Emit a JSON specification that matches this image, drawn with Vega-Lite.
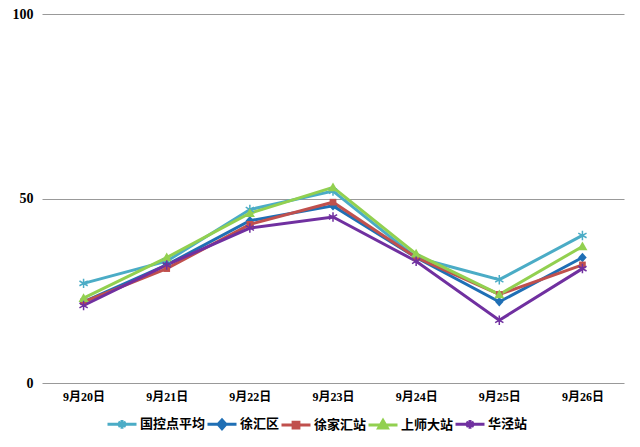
{
  "$schema": "https://vega.github.io/schema/vega-lite/v6.json",
  "width": 582,
  "height": 369,
  "autosize": {"type": "none"},
  "padding": {"left": 42, "top": 14, "right": 16, "bottom": 64},
  "background": "white",
  "config": {"view": {"stroke": null}},
  "data": {"values": [
    {"date": "9月20日", "series": "国控点平均", "value": 27},
    {"date": "9月21日", "series": "国控点平均", "value": 33},
    {"date": "9月22日", "series": "国控点平均", "value": 47},
    {"date": "9月23日", "series": "国控点平均", "value": 52},
    {"date": "9月24日", "series": "国控点平均", "value": 34},
    {"date": "9月25日", "series": "国控点平均", "value": 28},
    {"date": "9月26日", "series": "国控点平均", "value": 40},
    {"date": "9月20日", "series": "徐汇区", "value": 22},
    {"date": "9月21日", "series": "徐汇区", "value": 32},
    {"date": "9月22日", "series": "徐汇区", "value": 44},
    {"date": "9月23日", "series": "徐汇区", "value": 48},
    {"date": "9月24日", "series": "徐汇区", "value": 34},
    {"date": "9月25日", "series": "徐汇区", "value": 22},
    {"date": "9月26日", "series": "徐汇区", "value": 34},
    {"date": "9月20日", "series": "徐家汇站", "value": 22},
    {"date": "9月21日", "series": "徐家汇站", "value": 31},
    {"date": "9月22日", "series": "徐家汇站", "value": 43},
    {"date": "9月23日", "series": "徐家汇站", "value": 49},
    {"date": "9月24日", "series": "徐家汇站", "value": 34},
    {"date": "9月25日", "series": "徐家汇站", "value": 24},
    {"date": "9月26日", "series": "徐家汇站", "value": 32},
    {"date": "9月20日", "series": "上师大站", "value": 23},
    {"date": "9月21日", "series": "上师大站", "value": 34},
    {"date": "9月22日", "series": "上师大站", "value": 46},
    {"date": "9月23日", "series": "上师大站", "value": 53},
    {"date": "9月24日", "series": "上师大站", "value": 35},
    {"date": "9月25日", "series": "上师大站", "value": 24},
    {"date": "9月26日", "series": "上师大站", "value": 37},
    {"date": "9月20日", "series": "华泾站", "value": 21},
    {"date": "9月21日", "series": "华泾站", "value": 32},
    {"date": "9月22日", "series": "华泾站", "value": 42},
    {"date": "9月23日", "series": "华泾站", "value": 45},
    {"date": "9月24日", "series": "华泾站", "value": 33},
    {"date": "9月25日", "series": "华泾站", "value": 17},
    {"date": "9月26日", "series": "华泾站", "value": 31}
  ]},
  "encoding": {
    "x": {
      "field": "date", "type": "ordinal", "sort": null,
      "scale": {"padding": 0.5},
      "axis": {
        "title": null, "labelAngle": 0, "domain": false, "ticks": false,
        "labelPadding": 8, "labelFont": "Liberation Serif, Noto Sans CJK SC",
        "labelFontWeight": "bold", "labelFontSize": 12, "labelColor": "#000"
      }
    },
    "y": {
      "field": "value", "type": "quantitative",
      "scale": {"domain": [0, 100], "nice": false},
      "axis": {
        "title": null, "values": [0, 50, 100], "domain": false, "ticks": false,
        "grid": true, "gridColor": "#999999", "gridWidth": 1,
        "labelPadding": 9, "labelFont": "Liberation Serif",
        "labelFontWeight": "bold", "labelFontSize": 14, "labelColor": "#000"
      }
    }
  },
  "layer": [
    {
      "mark": {"type": "line", "strokeWidth": 3},
      "encoding": {
        "color": {
          "field": "series", "type": "nominal",
          "scale": {
            "domain": ["国控点平均", "徐汇区", "徐家汇站", "上师大站", "华泾站"],
            "range": ["#4BACC6", "#1F6FB5", "#C0504D", "#92D050", "#7030A0"]
          },
          "legend": {
            "title": null, "orient": "none", "direction": "horizontal",
            "legendX": 64, "legendY": 394,
            "symbolSize": 841, "symbolStrokeWidth": 3,
            "labelFont": "Noto Sans CJK SC", "labelFontWeight": "bold",
            "labelFontSize": 13, "labelColor": "#000", "labelOffset": 2,
            "columnPadding": -6,
            "encode": {
              "symbols": {
                "update": {
                  "shape": {"signal": "datum.value === '徐汇区' ? 'M-1,0H1M0,-0.3L0.27,0L0,0.3L-0.27,0Z' : datum.value === '徐家汇站' ? 'M-1,0H1M-0.2,-0.2H0.2V0.2H-0.2Z' : datum.value === '上师大站' ? 'M-1,0H1M0,-0.3L0.3,0.22H-0.3Z' : 'M-1,0H1M0,-0.3V0.3M-0.26,-0.15L0.26,0.15M-0.26,0.15L0.26,-0.15'"},
                  "fill": {"signal": "scale('color', datum.value)"},
                  "stroke": {"signal": "scale('color', datum.value)"},
                  "strokeWidth": {"value": 3},
                  "opacity": {"value": 1}
                }
              }
            }
          }
        }
      }
    },
    {
      "transform": [{"filter": "datum.series === '国控点平均'"}],
      "mark": {"type": "point", "filled": false, "opacity": 1, "strokeWidth": 1.5, "color": "#4BACC6", "size": 90,
        "shape": "M0,-1V1M-0.87,-0.5L0.87,0.5M-0.87,0.5L0.87,-0.5"}
    },
    {
      "transform": [{"filter": "datum.series === '徐汇区'"}],
      "mark": {"type": "point", "filled": true, "opacity": 1, "color": "#1F6FB5", "size": 90,
        "shape": "M0,-1L0.9,0L0,1L-0.9,0Z"}
    },
    {
      "transform": [{"filter": "datum.series === '徐家汇站'"}],
      "mark": {"type": "point", "filled": true, "opacity": 1, "color": "#C0504D", "size": 80,
        "shape": "M-0.75,-0.75H0.75V0.75H-0.75Z"}
    },
    {
      "transform": [{"filter": "datum.series === '上师大站'"}],
      "mark": {"type": "point", "filled": true, "opacity": 1, "color": "#92D050", "size": 100,
        "shape": "M0,-1L1,0.75H-1Z"}
    },
    {
      "transform": [{"filter": "datum.series === '华泾站'"}],
      "mark": {"type": "point", "filled": false, "opacity": 1, "strokeWidth": 1.5, "color": "#7030A0", "size": 90,
        "shape": "M0,-1V1M-0.87,-0.5L0.87,0.5M-0.87,0.5L0.87,-0.5"}
    }
  ]
}
